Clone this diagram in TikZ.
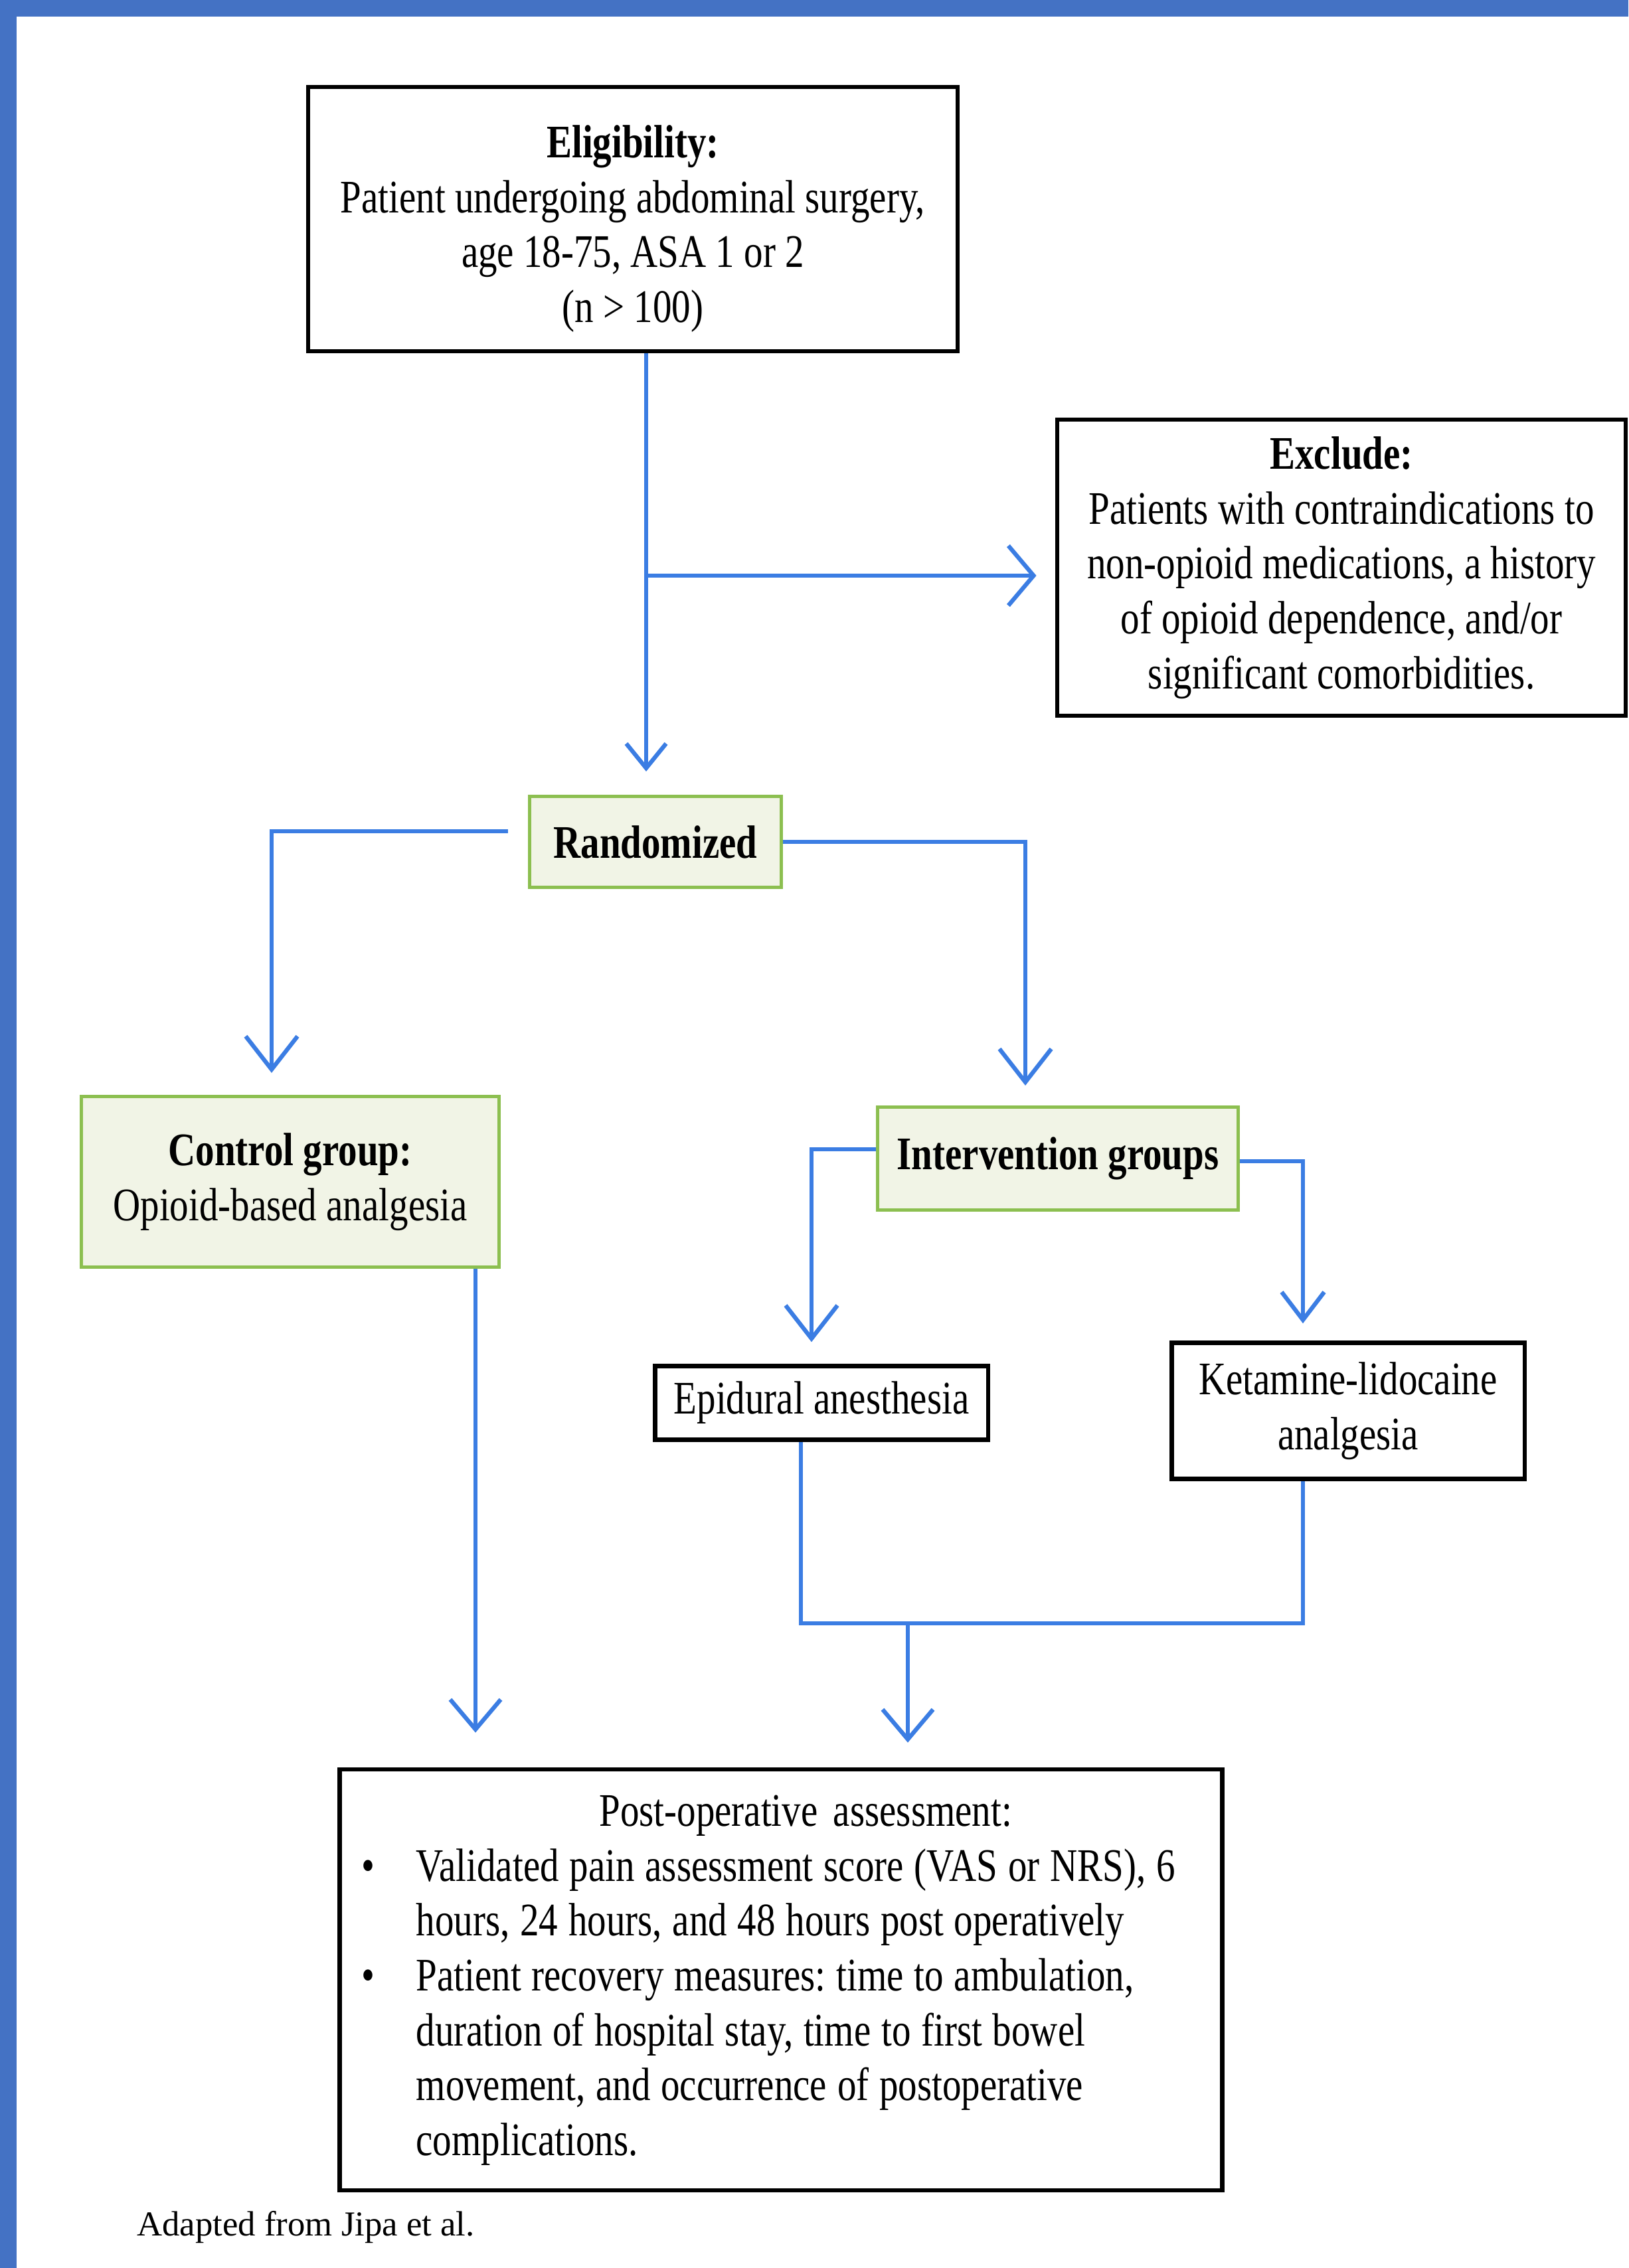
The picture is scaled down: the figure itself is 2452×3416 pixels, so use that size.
\documentclass[tikz,border=0pt]{standalone}
\usepackage{fontspec}
\setmainfont{Liberation Serif}[FakeStretch=0.81]
\newfontfamily\notefont{Liberation Serif}
\usepackage{tikz}
\usetikzlibrary{arrows.meta}

\definecolor{barblue}{HTML}{4472C4}
\definecolor{connblue}{HTML}{3B7DE3}
\definecolor{grpgreen}{HTML}{8CBF50}
\definecolor{grpfill}{HTML}{F1F4E6}
\newcommand{\boxfont}{\fontsize{20}{23.5}\selectfont\frenchspacing}
\newcommand{\tight}{\spaceskip=4.5pt plus 1pt minus 1pt\relax}

\begin{document}
\begin{tikzpicture}[x=0.01cm, y=-0.01cm,
    box/.style={draw=black, line width=1.8pt, align=center, inner sep=0pt, font=\boxfont},
    grp/.style={draw=grpgreen, fill=grpfill, line width=1.4pt, align=center, inner sep=0pt, font=\boxfont},
    conn/.style={draw=connblue, line width=1.8pt},
    arr/.style={conn, -{Straight Barb[length=5mm, width=7.8mm]}}]
    \useasboundingbox (0,0) rectangle (2452,3416);
    \fill[barblue] (0,0) rectangle (2452,25);
    \fill[barblue] (0,0) rectangle (25,3416);

    \node[box, minimum width=9.78cm, minimum height=3.98cm] (elig) at (953,330)
        {\rule{0pt}{0.78cm}\textbf{Eligibility:}\\Patient undergoing abdominal surgery,\\age 18-75, ASA 1 or 2\\(n > 100)};
    \node[box, minimum width=8.56cm, minimum height=4.46cm] (excl) at (2020,855)
        {\textbf{Exclude:}\\Patients with contraindications to\\non-opioid medications, a history\\of opioid dependence, and/or\\significant comorbidities.};
    \node[grp, minimum width=3.79cm, minimum height=1.37cm] (rand) at (987,1268) {\textbf{Randomized}};
    \node[grp, minimum width=6.29cm, minimum height=2.57cm] (ctrl) at (437,1780)
        {\textbf{Control group:}\\Opioid-based analgesia};
    \node[grp, minimum width=5.42cm, minimum height=1.55cm] (intv) at (1593,1745) {\textbf{Intervention groups}};
    \node[box, minimum width=5.01cm, minimum height=1.11cm] (epid) at (1237,2113) {Epidural anesthesia};
    \node[box, minimum width=5.31cm, minimum height=2.05cm] (keta) at (2030,2125) {Ketamine-lidocaine\\analgesia};
    \node[box, minimum height=6.34cm, text width=12.62cm, inner xsep=0.33cm, align=left] (post) at (1176,2982)
        {\begin{tabular}{@{}p{0.82cm}@{}l@{}}
          & \multicolumn{1}{c}{\hspace{0.3cm}Post-operative assessment:}\\
          \textbullet & \tight Validated pain assessment score (VAS or NRS), 6\\
          & \tight hours, 24 hours, and 48 hours post operatively\\
          \textbullet & \tight Patient recovery measures: time to ambulation,\\
          & \tight duration of hospital stay, time to first bowel\\
          & \tight movement, and occurrence of postoperative\\
          & \tight complications.
        \end{tabular}};
    \node[anchor=base west, font=\notefont\fontsize{15}{18}\selectfont] (src) at (194,3367) {Adapted from Jipa et al.};

    % eligibility -> randomized, exclusion branch
    \coordinate (e1) at ([xshift=0.2cm]elig.south);
    \coordinate (br) at (973,867);
    \draw[conn, -{Straight Barb[length=3.7mm, width=6mm]}, shorten >=0.35cm] (e1) -- (e1 |- rand.north);
    \draw[conn, -{Straight Barb[length=3.8mm, width=9mm]}, shorten >=0.28cm] (br) -- (br -| excl.west);

    % randomized -> groups
    \draw[arr] ([shift={(-30,-16)}]rand.west) -| ([shift={(-28,-33)}]ctrl.north);
    \draw[arr] (rand.east) -| ([shift={(-49,-30)}]intv.north);
    \draw[arr] ([shift={(0,-14)}]intv.west) -| ([shift={(-15,-33)}]epid.north);
    \draw[conn, -{Straight Barb[length=4.2mm, width=6.4mm]}] ([shift={(0,4)}]intv.east) -| ([shift={(-68,-26)}]keta.north);

    % groups -> assessment
    \coordinate (c1) at ([shift={(279,0)}]ctrl.south);
    \coordinate (mrg) at (1367,2445);
    \draw[conn, -{Straight Barb[length=4.5mm, width=7.6mm]}, shorten >=0.52cm] (c1) -- (c1 |- post.north);
    \draw[conn] ([xshift=-0.31cm]epid.south) |- (mrg) -| ([xshift=-0.68cm]keta.south);
    \draw[conn, -{Straight Barb[length=4.5mm, width=7.6mm]}, shorten >=0.37cm] (mrg) -- (mrg |- post.north);
\end{tikzpicture}
\end{document}
